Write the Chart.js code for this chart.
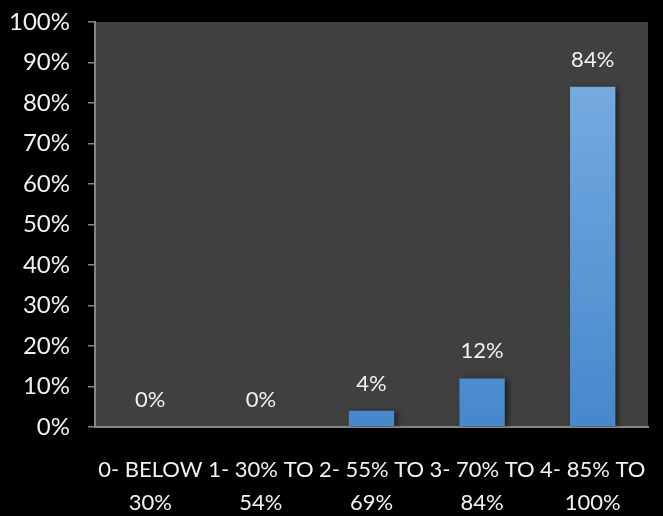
<!DOCTYPE html>
<html>
<head>
<meta charset="utf-8">
<script src="https://cdn.jsdelivr.net/npm/chart.js@4"></script>
<style>
  html, body { margin: 0; padding: 0; background: #000; }
  #wrap { width: 663px; height: 516px; }
</style>
</head>
<body>
<div id="wrap"><canvas id="chart"></canvas></div>
<script>
// Chart data
const categories = [
  ["0- BELOW", "30%"],
  ["1- 30% TO", "54%"],
  ["2- 55% TO", "69%"],
  ["3- 70% TO", "84%"],
  ["4- 85% TO", "100%"]
];
const values = [0, 0, 4, 12, 84];
const yTicks = [0, 10, 20, 30, 40, 50, 60, 70, 80, 90, 100];

const FONT = "Lato";

// Dark plot area behind the bars
const plotBg = {
  id: "plotBg",
  beforeDraw(chart) {
    const { ctx, chartArea } = chart;
    ctx.save();
    ctx.fillStyle = "#404040";
    ctx.fillRect(chartArea.left, chartArea.top, chartArea.right - chartArea.left, chartArea.bottom - chartArea.top);
    ctx.restore();
  },
};

// Per-bar vertical gradient + soft shadow
const barLook = {
  id: "barLook",
  beforeDatasetDraw(chart, args) {
    const { ctx } = chart;
    args.meta.data.forEach((bar) => {
      const g = ctx.createLinearGradient(0, bar.y, 0, bar.base);
      g.addColorStop(0, "#74aadf");
      g.addColorStop(1, "#4688cc");
      bar.options.backgroundColor = g;
    });
    ctx.save();
    ctx.shadowColor = "rgba(0, 0, 0, 0.55)";
    ctx.shadowBlur = 6;
    ctx.shadowOffsetX = 3;
    ctx.shadowOffsetY = 1;
  },
  afterDatasetDraw(chart) {
    chart.ctx.restore();
  },
};

// Value labels above bars
const valueLabels = {
  id: "valueLabels",
  afterDatasetsDraw(chart) {
    const { ctx } = chart;
    const meta = chart.getDatasetMeta(0);
    ctx.save();
    ctx.fillStyle = "#f2f2f2";
    ctx.font = "22px " + FONT;
    ctx.textAlign = "center";
    ctx.textBaseline = "middle";
    meta.data.forEach((bar, i) => {
      ctx.fillText(values[i] + "%", bar.x, bar.y - 27);
    });
    ctx.restore();
  },
};

new Chart(document.getElementById("chart"), {
  type: "bar",
  data: {
    labels: categories,
    datasets: [
      {
        data: values,
        backgroundColor: "#5b9bd5",
        borderWidth: 0,
        categoryPercentage: 1,
        barPercentage: 0.41,
      },
    ],
  },
  options: {
    responsive: true,
    maintainAspectRatio: false,
    animation: false,
    layout: {
      padding: { top: 22, right: 15, bottom: 0, left: 0 },
    },
    plugins: {
      legend: { display: false },
      tooltip: { enabled: false },
    },
    scales: {
      y: {
        min: 0,
        max: 100,
        afterBuildTicks: (scale) => {
          scale.ticks = yTicks.map((v) => ({ value: v }));
        },
        afterFit: (scale) => {
          scale.width = 95;
          scale.paddingTop = 0;
          scale.paddingBottom = 0;
        },
        grid: {
          drawOnChartArea: false,
          drawTicks: true,
          tickLength: 7,
          color: "#868686",
          lineWidth: 1.5,
        },
        border: { color: "#868686", width: 2 },
        ticks: {
          color: "#f2f2f2",
          padding: 18,
          font: { family: FONT, size: 24 },
          callback: (v) => v + "%",
        },
      },
      x: {
        afterFit: (scale) => {
          scale.height = 89;
          scale.paddingLeft = 0;
          scale.paddingRight = 0;
        },
        grid: { display: false, drawTicks: false },
        border: { color: "#868686", width: 2 },
        ticks: {
          color: "#f2f2f2",
          padding: 26,
          maxRotation: 0,
          minRotation: 0,
          autoSkip: false,
          font: { family: FONT, size: 22, lineHeight: 1.5 },
        },
      },
    },
  },
  plugins: [plotBg, barLook, valueLabels],
});
</script>
</body>
</html>
